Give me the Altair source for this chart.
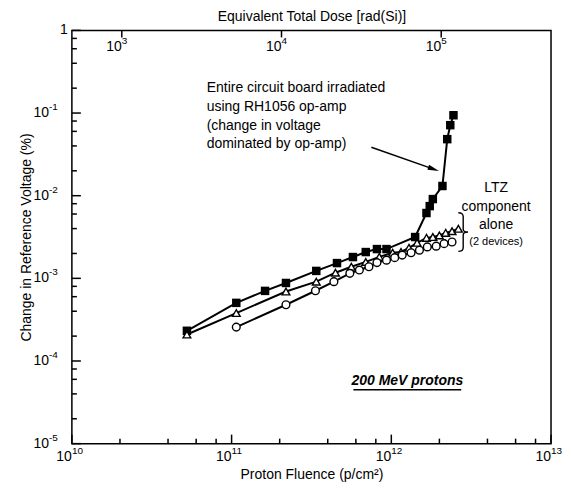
import altair as alt
import pandas as pd

# ---------------- data ----------------
# Entire circuit board (RH1056 op-amp) - filled squares
sq_fluence = [5.25e10, 1.07e11, 1.62e11, 2.19e11, 3.39e11, 4.57e11, 5.75e11, 6.92e11, 8.13e11,
              9.33e11, 1.41e12, 1.66e12, 1.74e12, 1.82e12, 2.09e12, 2.24e12, 2.34e12, 2.45e12]
sq_change = [2.32e-4, 5.05e-4, 7.05e-4, 8.79e-4, 1.23e-3, 1.53e-3, 1.81e-3, 2.08e-3, 2.26e-3,
             2.26e-3, 3.16e-3, 6.17e-3, 7.48e-3, 9.10e-3, 1.31e-2, 4.83e-2, 7.13e-2, 9.40e-2]

# LTZ component, device 1 - open triangles
tri_fluence = [5.25e10, 1.07e11, 2.19e11, 3.39e11, 4.47e11, 5.62e11, 6.92e11, 8.41e11, 1.02e12,
               1.15e12, 1.29e12, 1.45e12, 1.66e12, 1.82e12, 2.00e12, 2.19e12, 2.40e12, 2.63e12]
tri_change = [2.09e-4, 3.80e-4, 6.92e-4, 9.12e-4, 1.17e-3, 1.38e-3, 1.58e-3, 1.82e-3, 2.04e-3,
              2.09e-3, 2.34e-3, 2.69e-3, 3.09e-3, 3.16e-3, 3.31e-3, 3.55e-3, 3.72e-3, 3.98e-3]

# LTZ component, device 2 - open circles
circ_fluence = [1.07e11, 2.19e11, 3.35e11, 4.37e11, 5.50e11, 6.31e11, 7.24e11, 8.13e11, 9.33e11,
                1.05e12, 1.17e12, 1.33e12, 1.50e12, 1.68e12, 1.91e12, 2.14e12, 2.40e12]
circ_change = [2.57e-4, 4.79e-4, 7.08e-4, 9.12e-4, 1.15e-3, 1.26e-3, 1.38e-3, 1.55e-3, 1.66e-3,
               1.78e-3, 1.91e-3, 2.04e-3, 2.19e-3, 2.40e-3, 2.45e-3, 2.63e-3, 2.75e-3]

x_exponents = [10, 11, 12, 13]
y_exponents = [-5, -4, -3, -2, -1]
minor_multipliers = [2, 4, 6, 8]
dose_exponents = [3, 4, 5]
rad_per_fluence = 4.87e-8   # 1e5 rad(Si) <-> ~2.05e12 p/cm^2

# annotations
op_lines = ["Entire circuit board irradiated", "using RH1056 op-amp",
            "(change in voltage", "dominated by op-amp)"]
op_x = 6.98e10
op_y = [0.1995, 0.1175, 0.0693, 0.0420]
arrow_F = [7.5e11, 1.84e12]
arrow_V = [0.0386, 0.02095]
ltz_lines = ["LTZ", "component", "alone"]
ltz_x = 4.53e12
ltz_y = [0.01235, 0.00728, 0.00442]
ltz_small = "(2 devices)"
ltz_small_y = 0.00275
brace_F, brace_V = 2.78e12, 0.00363
proton_text = "200 MeV protons"
proton_F, proton_V = 1.26e12, 5.77e-5
underline_F = [5.79e11, 2.74e12]
underline_V = 4.49e-5

# ---------------- helpers ----------------
W, H = 480, 414
FONT = "Liberation Sans"
X_MIN, X_MAX = 10.0 ** x_exponents[0], 10.0 ** x_exponents[-1]
Y_MIN, Y_MAX = 1e-5, 1.0

xscale = alt.Scale(type="log", domain=[X_MIN, X_MAX], nice=False)
yscale = alt.Scale(type="log", domain=[Y_MIN, Y_MAX], nice=False)
dscale = alt.Scale(type="log", domain=[X_MIN * rad_per_fluence, X_MAX * rad_per_fluence],
                   nice=False)

common_axis = dict(labels=False, ticks=False, domain=False, grid=False, titleFont=FONT,
                   titleFontSize=14, titleFontWeight="normal", titleColor="black")
xaxis = alt.Axis(orient="bottom", title="Proton Fluence (p/cm²)", titlePadding=24, **common_axis)
yaxis = alt.Axis(orient="left", title="Change in Reference Voltage (%)", titlePadding=38,
                 **common_axis)
daxis = alt.Axis(orient="top", title="Equivalent Total Dose [rad(Si)]", titlePadding=7,
                 **common_axis)

X = alt.X("F:Q", scale=xscale, axis=xaxis)
Y = alt.Y("V:Q", scale=yscale, axis=yaxis)
DX = alt.X("D:Q", scale=dscale, axis=daxis)

# ---------------- tables ----------------
series = pd.concat([
    pd.DataFrame({"F": sq_fluence, "V": sq_change, "s": "board"}),
    pd.DataFrame({"F": tri_fluence, "V": tri_change, "s": "ltz1"}),
    pd.DataFrame({"F": circ_fluence, "V": circ_change, "s": "ltz2"}),
], ignore_index=True)
series["o"] = range(len(series))

y_major = pd.DataFrame({"V": [10.0 ** e for e in y_exponents] + [1.0], "k": "ymaj"})
y_minor = pd.DataFrame({"V": [m * 10.0 ** e for e in y_exponents for m in minor_multipliers],
                        "k": "ymin"})
x_major = pd.DataFrame({"F": [10.0 ** e for e in x_exponents], "k": "xmaj"})
x_minor = pd.DataFrame({"F": [m * 10.0 ** e for e in x_exponents[:-1] for m in minor_multipliers],
                        "k": "xmin"})

x_lab = pd.DataFrame({"F": [10.0 ** e for e in x_exponents], "b": "10",
                      "e": [str(e) for e in x_exponents]})
y_lab = pd.DataFrame({"V": [10.0 ** e for e in y_exponents], "b": "10",
                      "e": [str(e) for e in y_exponents]})
y_one = pd.DataFrame({"V": [1.0], "b": ["1"]})
d_lab = pd.DataFrame({"D": [10.0 ** e for e in dose_exponents], "b": "10",
                      "e": [str(e) for e in dose_exponents]})

op_df = pd.DataFrame({"F": [op_x] * len(op_lines), "V": op_y, "t": op_lines})
ltz_df = pd.DataFrame({"F": [ltz_x] * len(ltz_lines), "V": ltz_y, "t": ltz_lines})
ltz_small_df = pd.DataFrame({"F": [ltz_x], "V": [ltz_small_y], "t": [ltz_small]})
arrow_df = pd.DataFrame({"F": arrow_F, "V": arrow_V})
arrow_head_df = pd.DataFrame({"F": [arrow_F[-1]], "V": [arrow_V[-1]]})
brace_df = pd.DataFrame({"F": [brace_F], "V": [brace_V]})
proton_df = pd.DataFrame({"F": [proton_F], "V": [proton_V], "t": [proton_text]})
underline_df = pd.DataFrame({"F": [underline_F[0]], "F2": [underline_F[1]], "V": [underline_V]})

# ---------------- layers ----------------
lines = alt.Chart(series).mark_line(color="black", strokeWidth=2).encode(
    x=X, y=Y, detail="s:N", order="o:Q")

squares = alt.Chart(series[series.s == "board"]).mark_point(
    shape="square", filled=True, color="black", size=72, opacity=1).encode(x=X, y=Y)
triangles = alt.Chart(series[series.s == "ltz1"]).mark_point(
    shape="triangle-up", filled=True, fill="white", stroke="black", strokeWidth=1.4,
    size=60, opacity=1).encode(x=X, y=Y)
circles = alt.Chart(series[series.s == "ltz2"]).mark_point(
    shape="circle", filled=True, fill="white", stroke="black", strokeWidth=1.4,
    size=60, opacity=1).encode(x=X, y=Y)

# inward ticks on the frame
TW = 1.5
ytick_major = alt.Chart(y_major).mark_rule(color="black", strokeWidth=TW).encode(
    y=Y, x=alt.value(0), x2=alt.value(9))
ytick_minor = alt.Chart(y_minor).mark_rule(color="black", strokeWidth=TW).encode(
    y=Y, x=alt.value(0), x2=alt.value(5))
xtick_major = alt.Chart(x_major).mark_rule(color="black", strokeWidth=TW).encode(
    x=X, y=alt.value(H), y2=alt.value(H - 9))
xtick_minor = alt.Chart(x_minor).mark_rule(color="black", strokeWidth=TW).encode(
    x=X, y=alt.value(H), y2=alt.value(H - 5))


# tick labels with superscript exponents
def base_text(df, **enc):
    return alt.Chart(df).mark_text(font=FONT, fontSize=14, align="right", baseline="middle",
                                   color="black").encode(text="b:N", **enc)


def exp_text(df, dy=0, **enc):
    return alt.Chart(df).mark_text(font=FONT, fontSize=10, align="left", baseline="middle",
                                   dy=dy, color="black").encode(text="e:N", **enc)


xl_base = base_text(x_lab, x=X, y=alt.value(H + 13))
xl_exp = exp_text(x_lab, x=X, y=alt.value(H + 7))
yl_base = base_text(y_lab, y=Y, x=alt.value(-23))
yl_exp = exp_text(y_lab, dy=-6, y=Y, x=alt.value(-23))
yl_one = base_text(y_one, y=Y, x=alt.value(-4))

op_text = alt.Chart(op_df).mark_text(font=FONT, fontSize=14, align="left", baseline="middle",
                                     color="black").encode(x=X, y=Y, text="t:N")
ltz_text = alt.Chart(ltz_df).mark_text(font=FONT, fontSize=14, align="center", baseline="middle",
                                       color="black").encode(x=X, y=Y, text="t:N")
ltz_small_text = alt.Chart(ltz_small_df).mark_text(font=FONT, fontSize=11, align="center",
                                                   baseline="middle", color="black").encode(
    x=X, y=Y, text="t:N")
arrow_line = alt.Chart(arrow_df).mark_line(color="black", strokeWidth=1.5).encode(x=X, y=Y)
arrow_head = alt.Chart(arrow_head_df).mark_point(
    shape="M0,-1L0.45,1L-0.45,1Z", filled=True, color="black", size=130, angle=109,
    opacity=1).encode(x=X, y=Y)
brace = alt.Chart(brace_df).mark_point(
    shape="M-0.2,-1Q0.05,-1 0.05,-0.8L0.05,-0.15Q0.05,0 0.3,0Q0.05,0 0.05,0.15L0.05,0.8Q0.05,1 -0.2,1",
    filled=False, stroke="black", strokeWidth=1.4, size=1500, opacity=1).encode(x=X, y=Y)
proton = alt.Chart(proton_df).mark_text(font=FONT, fontSize=14, fontStyle="italic",
                                        fontWeight="bold", align="center", baseline="middle",
                                        color="black").encode(x=X, y=Y, text="t:N")
underline = alt.Chart(underline_df).mark_rule(color="black", strokeWidth=1.5).encode(
    x=X, x2="F2:Q", y=Y)

main = alt.layer(lines, squares, triangles, circles, ytick_major, ytick_minor, xtick_major,
                 xtick_minor, xl_base, xl_exp, yl_base, yl_exp, yl_one, op_text, ltz_text,
                 ltz_small_text, arrow_line, arrow_head, brace, proton, underline)

dose_ticks = alt.Chart(d_lab).mark_rule(color="black", strokeWidth=TW).encode(
    x=DX, y=alt.value(0), y2=alt.value(7))
dose_base = alt.Chart(d_lab).mark_text(font=FONT, fontSize=14, align="right", baseline="middle",
                                       color="black").encode(x=DX, y=alt.value(17), text="b:N")
dose_exp = alt.Chart(d_lab).mark_text(font=FONT, fontSize=10, align="left", baseline="middle",
                                      color="black").encode(x=DX, y=alt.value(11), text="e:N")
dose = alt.layer(dose_ticks, dose_base, dose_exp)

chart = alt.layer(main, dose).resolve_scale(x="independent").properties(
    width=W, height=H,
    autosize=alt.AutoSizeParams(type="none"),
    padding={"left": 64, "top": 22, "right": 12, "bottom": 40},
    background="white",
).configure_view(stroke="black", strokeWidth=1.5)

chart.save("out.html", embed_options={"renderer": "svg", "actions": False})
